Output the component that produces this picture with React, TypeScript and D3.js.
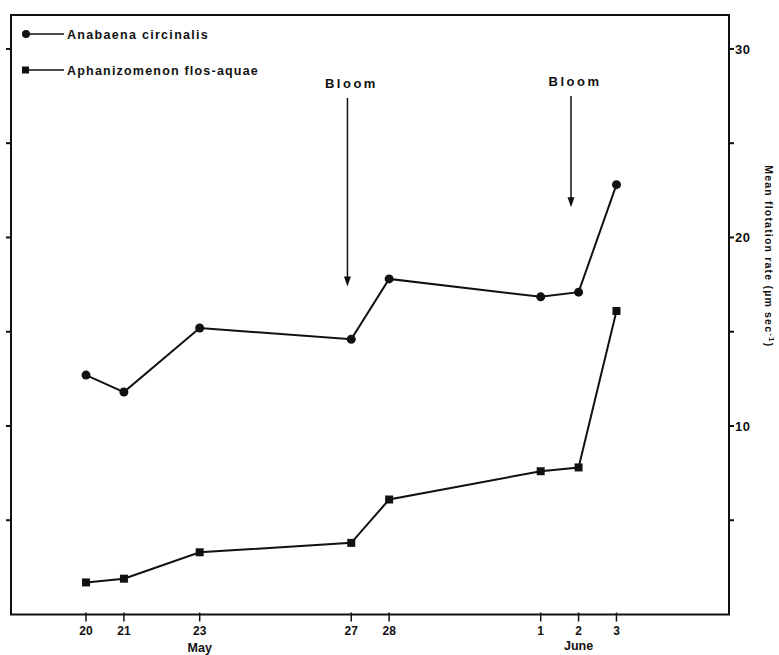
import React from "react";
import * as d3 from "d3";

// Day number (June 1 = day 32)
const days = [20, 21, 23, 27, 28, 32, 33, 34];
const dayLabels = ["20", "21", "23", "27", "28", "1", "2", "3"];
const anabaena = [12.7, 11.8, 15.2, 14.6, 17.8, 16.85, 17.1, 22.8];
const aphanizomenon = [1.7, 1.9, 3.3, 3.8, 6.1, 7.6, 7.8, 16.1];
const seriesNames = ["Anabaena circinalis", "Aphanizomenon flos-aquae"];
const rightTicks = [5, 10, 15, 20, 25, 30];
const rightTickLabels = ["", "10", "", "20", "", "30"];
const bloomDays = [26.9, 32.8];
const bloomTop = [27.4, 27.5];
const bloomBottom = [17.4, 21.6];
const monthLabels = ["May", "June"];
const monthDays = [23, 33];

const W = 779;
const H = 655;
const left = 11;
const right = 729;
const top = 15;
const bottom = 614.5;

export default function App() {
  const x = d3.scaleLinear().domain([18.02, 36.97]).range([left, right]);
  const y = d3.scaleLinear().domain([0, 31.8]).range([bottom, top]);
  const line = d3
    .line<number>()
    .x((_, i) => x(days[i]))
    .y((d) => y(d));
  const font = "'Liberation Sans', Arial, sans-serif";
  const ink = "#111";

  return (
    <svg
      width={W}
      height={H}
      style={{ position: "absolute", left: 0, top: 0, background: "#fff" }}
      fontFamily={font}
    >
      {/* frame */}
      <rect x={left} y={top} width={right - left} height={bottom - top} fill="none" stroke={ink} strokeWidth={2} />

      {/* left ticks */}
      {rightTicks.map((t) => (
        <line key={"l" + t} x1={left - 5} x2={left} y1={y(t)} y2={y(t)} stroke={ink} strokeWidth={2} />
      ))}
      {/* right ticks */}
      {rightTicks.map((t, i) => (
        <g key={"r" + t}>
          <line x1={right} x2={right + 5} y1={y(t)} y2={y(t)} stroke={ink} strokeWidth={2} />
          {rightTickLabels[i] && (
            <text x={right + 6} y={y(t)} dy="0.36em" fontSize={13} fontWeight="bold" fill={ink} letterSpacing={0.5}>
              {rightTickLabels[i]}
            </text>
          )}
        </g>
      ))}
      {/* right axis title */}
      <text
        transform={`translate(765, ${y(19)}) rotate(90)`}
        textAnchor="middle"
        fontSize={10.5}
        fontWeight="bold"
        fill={ink}
        letterSpacing={1.2}
      >
        Mean flotation rate (µm sec<tspan dy="-4" fontSize={8}>-1</tspan><tspan dy="4">)</tspan>
      </text>

      {/* x ticks */}
      {days.map((d, i) => (
        <g key={"x" + d}>
          <line x1={x(d)} x2={x(d)} y1={bottom - 2} y2={bottom + 7} stroke={ink} strokeWidth={1.5} />
          <text x={x(d)} y={635} textAnchor="middle" fontSize={12} fontWeight="bold" fill={ink}>
            {dayLabels[i]}
          </text>
        </g>
      ))}
      {monthLabels.map((m, i) => (
        <text key={m} x={x(monthDays[i])} y={i === 0 ? 652 : 650} textAnchor="middle" fontSize={12.5} fontWeight="bold" fill={ink}>
          {m}
        </text>
      ))}

      {/* series */}
      <path d={line(anabaena) || ""} fill="none" stroke={ink} strokeWidth={2} />
      <path d={line(aphanizomenon) || ""} fill="none" stroke={ink} strokeWidth={2} />
      {anabaena.map((v, i) => (
        <circle key={"a" + i} cx={x(days[i])} cy={y(v)} r={4.5} fill={ink} />
      ))}
      {aphanizomenon.map((v, i) => (
        <rect key={"b" + i} x={x(days[i]) - 4} y={y(v) - 4} width={8} height={8} fill={ink} />
      ))}

      {/* bloom annotations */}
      {bloomDays.map((d, i) => (
        <g key={"bl" + i}>
          <text x={x(d) + 4} y={y(bloomTop[i]) - 10} textAnchor="middle" fontSize={13} fontWeight="bold" fill={ink} letterSpacing={2.5}>
            Bloom
          </text>
          <line x1={x(d)} x2={x(d)} y1={y(bloomTop[i])} y2={y(bloomBottom[i]) - 8} stroke={ink} strokeWidth={1.5} />
          <path
            d={`M${x(d) - 3.5},${y(bloomBottom[i]) - 10} L${x(d) + 3.5},${y(bloomBottom[i]) - 10} L${x(d)},${y(bloomBottom[i])} Z`}
            fill={ink}
          />
        </g>
      ))}

      {/* legend */}
      <g>
        <line x1={25} x2={64} y1={34} y2={34} stroke={ink} strokeWidth={1.5} />
        <circle cx={26} cy={34} r={4} fill={ink} />
        <text x={67} y={34} dy="0.36em" fontSize={12.5} fontWeight="bold" fill={ink} letterSpacing={1.3}>
          {seriesNames[0]}
        </text>
        <line x1={25} x2={64} y1={70} y2={70} stroke={ink} strokeWidth={1.5} />
        <rect x={22} y={66.5} width={7} height={7} fill={ink} />
        <text x={67} y={70} dy="0.36em" fontSize={12.5} fontWeight="bold" fill={ink} letterSpacing={1.2}>
          {seriesNames[1]}
        </text>
      </g>
    </svg>
  );
}
